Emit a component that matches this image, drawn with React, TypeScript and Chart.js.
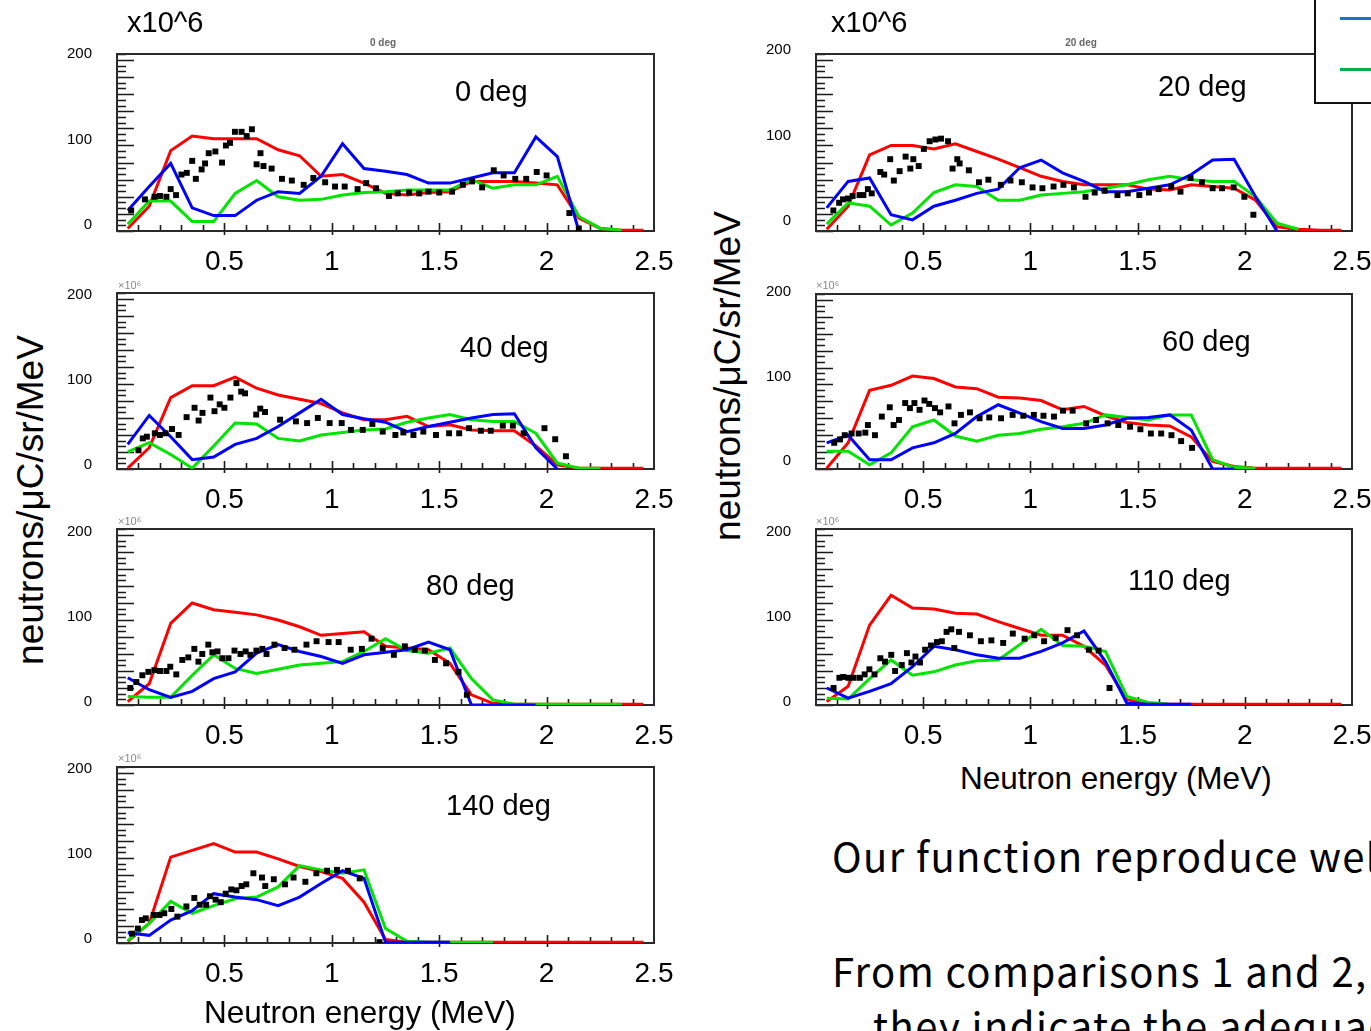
import React, { useEffect, useRef } from "react";
import { Chart, registerables } from "chart.js";

Chart.register(...registerables);

// ---------------- data ----------------
const ENERGY_BINS = [0.05, 0.15, 0.25, 0.35, 0.45, 0.55, 0.65, 0.75, 0.85, 0.95, 1.05, 1.15, 1.25, 1.35, 1.45, 1.55, 1.65, 1.75, 1.85, 1.95, 2.05, 2.15, 2.25, 2.35, 2.45];
const X_TICKS = [0.5, 1, 1.5, 2, 2.5];
const Y_TICKS = [0, 100, 200];

// 0 deg
const RED_0 = [3, 29, 94, 111, 108, 108, 108, 95, 88, 64, 66, 56, 44, 42, 45, 46, 58, 58, 58, 56, 54, 15, 3, 1, 1];
const BLUE_0 = [24, 52, 79, 27, 18, 18, 36, 46, 44, 64, 102, 73, 70, 66, 56, 56, 62, 68, 68, 110, 87, 0, null, null, null];
const GREEN_0 = [8, 35, 35, 11, 11, 44, 59, 40, 36, 37, 42, 45, 46, 48, 48, 48, 60, 50, 54, 54, 64, 17, 3, 1, null];
const EXP_E_0 = [0.066, 0.13, 0.175, 0.2, 0.23, 0.25, 0.275, 0.3, 0.325, 0.35, 0.367, 0.394, 0.41, 0.427, 0.458, 0.489, 0.507, 0.526, 0.549, 0.58, 0.604, 0.628, 0.65, 0.668, 0.682, 0.72, 0.768, 0.814, 0.869, 0.914, 0.969, 1.015, 1.06, 1.12, 1.16, 1.206, 1.266, 1.307, 1.36, 1.407, 1.45, 1.5, 1.56, 1.61, 1.653, 1.7, 1.754, 1.8, 1.854, 1.905, 1.954, 2.0, 2.106, 2.15];
const EXP_V_0 = [24, 37, 40, 41, 40, 49, 42, 66, 68, 82, 61, 72, 79, 91, 93, 80, 100, 103, 116, 116, 111, 119, 78, 91, 76, 73, 61, 59, 54, 62, 57, 52, 52, 49, 56, 50, 41, 44, 45, 44, 46, 45, 46, 54, 58, 51, 71, 65, 61, 61, 69, 65, 21, 3];

// 20 deg
const RED_20 = [2, 29, 89, 100, 100, 96, 102, 93, 84, 74, 64, 58, 54, 54, 54, 49, 48, 54, 52, 50, 36, 5, 2, 1, 1];
const BLUE_20 = [27, 58, 62, 19, 13, 29, 36, 44, 49, 74, 83, 68, 58, 46, 46, 50, 54, 66, 83, 84, 40, 0, null, null, null];
const GREEN_20 = [8, 33, 29, 7, 21, 45, 54, 52, 36, 36, 42, 44, 46, 50, 54, 60, 64, 60, 58, 58, 40, 9, 2, null, null];
const EXP_E_20 = [0.081, 0.108, 0.126, 0.149, 0.171, 0.203, 0.221, 0.242, 0.26, 0.3, 0.318, 0.346, 0.363, 0.39, 0.418, 0.44, 0.454, 0.479, 0.503, 0.53, 0.557, 0.583, 0.616, 0.637, 0.659, 0.67, 0.713, 0.76, 0.804, 0.862, 0.907, 0.96, 1.01, 1.056, 1.108, 1.154, 1.203, 1.257, 1.3, 1.346, 1.406, 1.454, 1.508, 1.553, 1.598, 1.657, 1.7, 1.747, 1.8, 1.85, 1.894, 1.948, 1.998, 2.04];
const EXP_V_20 = [24, 33, 37, 38, 41, 42, 42, 49, 44, 69, 66, 84, 59, 70, 87, 73, 84, 76, 96, 105, 107, 108, 105, 73, 84, 79, 71, 57, 60, 54, 59, 57, 51, 50, 52, 54, 51, 40, 45, 47, 42, 44, 42, 45, 49, 52, 46, 62, 57, 50, 50, 51, 40, 19];

// 40 deg
const RED_40 = [1, 25, 84, 98, 98, 108, 95, 87, 82, 77, 66, 58, 58, 62, 50, 52, 46, 45, 45, 27, 5, 1, 1, 1, 1];
const BLUE_40 = [29, 63, 38, 11, 14, 29, 36, 50, 66, 82, 64, 59, 55, 44, 50, 55, 60, 64, 65, 25, 0, null, null, null, null];
const GREEN_40 = [20, 31, 17, 1, 27, 54, 53, 36, 33, 40, 43, 46, 47, 55, 60, 64, 58, 56, 56, 42, 7, 1, 1, null, null];
const EXP_E_40 = [0.1, 0.12, 0.139, 0.176, 0.2, 0.226, 0.256, 0.287, 0.324, 0.361, 0.38, 0.398, 0.435, 0.454, 0.478, 0.5, 0.528, 0.556, 0.578, 0.596, 0.648, 0.667, 0.689, 0.759, 0.833, 0.885, 0.935, 0.99, 1.046, 1.089, 1.144, 1.189, 1.237, 1.296, 1.333, 1.38, 1.426, 1.485, 1.546, 1.593, 1.639, 1.694, 1.74, 1.796, 1.843, 1.893, 1.99, 2.04, 2.09];
const EXP_V_40 = [22, 36, 38, 42, 40, 42, 47, 40, 61, 72, 57, 66, 84, 68, 76, 72, 84, 101, 91, 89, 64, 71, 67, 58, 56, 54, 60, 54, 54, 46, 46, 53, 44, 40, 43, 40, 44, 40, 42, 42, 48, 45, 45, 51, 51, 42, 48, 35, 15];

// 60 deg
const RED_60 = [1, 31, 93, 99, 110, 107, 97, 95, 85, 84, 81, 70, 74, 63, 55, 52, 51, 38, 9, 3, 1, 1, 1, 1, 1];
const BLUE_60 = [31, 40, 11, 11, 25, 31, 42, 62, 76, 66, 56, 48, 48, 52, 60, 61, 64, 46, 0, 0, null, null, null, null, null];
const GREEN_60 = [21, 21, 5, 19, 50, 58, 39, 33, 40, 42, 47, 50, 54, 64, 61, 58, 64, 64, 11, 2, 1, null, null, null, null];
const EXP_E_60 = [0.085, 0.112, 0.134, 0.166, 0.199, 0.23, 0.242, 0.275, 0.307, 0.344, 0.362, 0.387, 0.416, 0.438, 0.459, 0.483, 0.506, 0.528, 0.555, 0.579, 0.618, 0.646, 0.676, 0.718, 0.763, 0.808, 0.863, 0.917, 0.967, 1.016, 1.061, 1.11, 1.152, 1.197, 1.26, 1.306, 1.36, 1.41, 1.465, 1.513, 1.562, 1.61, 1.658, 1.703, 1.754];
const EXP_V_60 = [31, 35, 40, 42, 42, 43, 52, 40, 62, 73, 52, 58, 78, 72, 78, 70, 81, 77, 72, 67, 74, 54, 64, 67, 60, 61, 60, 64, 63, 64, 63, 62, 69, 69, 54, 58, 54, 52, 50, 47, 42, 42, 40, 33, 25];

// 80 deg
const RED_80 = [4, 25, 96, 120, 112, 109, 106, 100, 92, 82, 84, 86, 69, 67, 65, 49, 12, 2, 1, 1, 1, 1, 1, 1, 1];
const BLUE_80 = [32, 18, 9, 16, 31, 39, 61, 71, 63, 57, 49, 59, 62, 65, 74, 65, 0, 0, 0, 0, null, null, null, null, null];
const GREEN_80 = [10, 9, 9, 35, 59, 43, 37, 42, 47, 49, 51, 63, 78, 64, 61, 67, 31, 6, 1, 1, 1, 1, 1, 1, null];
const EXP_E_80 = [0.062, 0.09, 0.118, 0.146, 0.174, 0.2, 0.23, 0.248, 0.276, 0.304, 0.332, 0.36, 0.379, 0.397, 0.425, 0.444, 0.468, 0.49, 0.519, 0.547, 0.575, 0.599, 0.621, 0.649, 0.677, 0.696, 0.733, 0.78, 0.826, 0.882, 0.929, 0.985, 1.032, 1.088, 1.14, 1.185, 1.237, 1.289, 1.34, 1.386, 1.433, 1.48, 1.532, 1.59, 1.629];
const EXP_V_80 = [20, 27, 35, 39, 41, 40, 40, 45, 36, 53, 56, 66, 51, 60, 71, 62, 63, 55, 55, 64, 60, 63, 59, 64, 66, 60, 71, 67, 65, 71, 75, 74, 74, 65, 66, 78, 67, 59, 69, 65, 64, 53, 49, 39, 12];

// 110 deg
const RED_110 = [4, 22, 94, 129, 114, 113, 108, 107, 98, 90, 82, 82, 69, 47, 6, 2, 1, 1, 1, 1, 1, 1, 1, 1, 1];
const BLUE_110 = [20, 8, 16, 25, 45, 69, 65, 59, 55, 55, 63, 73, 87, 51, 2, 1, 1, 1, null, null, null, null, null, null, null];
const GREEN_110 = [8, 7, 31, 53, 35, 39, 47, 52, 53, 71, 89, 70, 69, 63, 10, 3, 1, null, null, null, null, null, null, null, null];
const EXP_E_110 = [0.082, 0.109, 0.127, 0.151, 0.176, 0.205, 0.227, 0.249, 0.273, 0.3, 0.322, 0.351, 0.369, 0.4, 0.424, 0.445, 0.464, 0.485, 0.509, 0.536, 0.564, 0.587, 0.609, 0.631, 0.645, 0.667, 0.718, 0.769, 0.818, 0.873, 0.918, 0.973, 1.018, 1.064, 1.118, 1.173, 1.218, 1.273, 1.318, 1.369];
const EXP_V_110 = [20, 32, 33, 32, 32, 32, 36, 42, 36, 55, 51, 59, 40, 47, 61, 50, 57, 50, 65, 70, 74, 75, 86, 89, 67, 86, 82, 75, 76, 73, 84, 78, 82, 75, 79, 88, 82, 65, 64, 20];

// 140 deg
const RED_140 = [2, 23, 101, 109, 117, 107, 107, 99, 90, 84, 76, 48, 4, 1, 1, 1, 1, 1, 1, 1, 1, 1, 1, 1, 1];
const BLUE_140 = [12, 9, 27, 38, 58, 54, 51, 44, 54, 70, 85, 76, 1, 1, 1, 1, null, null, null, null, null, null, null, null, null];
const GREEN_140 = [3, 23, 49, 35, 44, 52, 54, 66, 91, 86, 82, 86, 17, 2, 1, 1, 1, 1, null, null, null, null, null, null, null];
const EXP_E_140 = [0.07, 0.097, 0.116, 0.134, 0.171, 0.198, 0.22, 0.253, 0.281, 0.323, 0.36, 0.385, 0.415, 0.433, 0.459, 0.483, 0.506, 0.532, 0.556, 0.58, 0.602, 0.635, 0.675, 0.69, 0.73, 0.782, 0.822, 0.877, 0.928, 0.978, 1.024, 1.075, 1.13, 1.222];
const EXP_V_140 = [11, 17, 27, 29, 33, 33, 35, 40, 31, 43, 53, 45, 45, 55, 51, 48, 58, 63, 62, 67, 69, 82, 77, 67, 75, 69, 77, 72, 82, 85, 86, 85, 76, 1];

// ---------------- styles / layout ----------------
const FONT = "'Liberation Sans', Arial, Helvetica, sans-serif";
const JP_FONT = "'Noto Sans CJK JP', 'Noto Sans', sans-serif";
const RED = "#ff0000";
const BLUE = "#0000ff";
const GREEN = "#00e400";
const Y_MAX = 207;
const PAD_L = 62;
const PAD_T = 38;
const PAD_R = 38;
const PAD_B = 52;

type Frame = { l: number; t: number; r: number; b: number };
type PanelSpec = {
  id: string;
  red: (number | null)[];
  blue: (number | null)[];
  green: (number | null)[];
  expE: number[];
  expV: number[];
  frame: Frame;
  labelOffset: number;
};

const PANELS: PanelSpec[] = [
  { id: "0", red: RED_0, blue: BLUE_0, green: GREEN_0, expE: EXP_E_0, expV: EXP_V_0, frame: { l: 117, t: 54, r: 654, b: 231 }, labelOffset: -6 },
  { id: "20", red: RED_20, blue: BLUE_20, green: GREEN_20, expE: EXP_E_20, expV: EXP_V_20, frame: { l: 816, t: 54, r: 1352, b: 231 }, labelOffset: -10 },
  { id: "40", red: RED_40, blue: BLUE_40, green: GREEN_40, expE: EXP_E_40, expV: EXP_V_40, frame: { l: 117, t: 293, r: 654, b: 469 }, labelOffset: -4 },
  { id: "60", red: RED_60, blue: BLUE_60, green: GREEN_60, expE: EXP_E_60, expV: EXP_V_60, frame: { l: 816, t: 294, r: 1352, b: 469 }, labelOffset: -8 },
  { id: "80", red: RED_80, blue: BLUE_80, green: GREEN_80, expE: EXP_E_80, expV: EXP_V_80, frame: { l: 117, t: 529, r: 654, b: 705 }, labelOffset: -3 },
  { id: "110", red: RED_110, blue: BLUE_110, green: GREEN_110, expE: EXP_E_110, expV: EXP_V_110, frame: { l: 816, t: 529, r: 1352, b: 705 }, labelOffset: -3 },
  { id: "140", red: RED_140, blue: BLUE_140, green: GREEN_140, expE: EXP_E_140, expV: EXP_V_140, frame: { l: 117, t: 767, r: 654, b: 943 }, labelOffset: -4 },
];

const rootAxesPlugin = {
  id: "rootAxes",
  beforeDatasetsDraw(chart: any) {
    const { ctx, chartArea, scales } = chart;
    const { left, top, right, bottom } = chartArea;
    const x = scales.x;
    const y = scales.y;
    ctx.save();
    ctx.strokeStyle = "#1a1a1a";
    ctx.lineWidth = 1.6;
    ctx.beginPath();
    const major = 20;
    const nSub = 3;
    for (let k = 0; (k * major) / nSub <= Y_MAX; k++) {
      const py = Math.round(y.getPixelForValue((k * major) / nSub)) + 0.5;
      const len = k % nSub === 0 ? 17 : 9;
      ctx.moveTo(left, py);
      ctx.lineTo(left + len, py);
    }
    for (let k = 1; k < 25; k++) {
      const px = Math.round(x.getPixelForValue(k / 10)) + 0.5;
      const isMajor = k % 5 === 0;
      ctx.moveTo(px, bottom + (isMajor ? 4 : 0));
      ctx.lineTo(px, bottom - (isMajor ? 8 : 6));
    }
    ctx.stroke();
    ctx.lineWidth = 2;
    ctx.strokeStyle = "#2a2a2a";
    ctx.strokeRect(left, top, right - left, bottom - top);
    ctx.restore();
  },
};

function lineSet(label: string, values: (number | null)[], color: string, order: number) {
  return {
    label,
    data: ENERGY_BINS.map((e, i) => ({ x: e, y: values[i] })),
    showLine: true,
    borderColor: color,
    backgroundColor: color,
    borderWidth: 3,
    pointRadius: 0,
    pointHoverRadius: 0,
    spanGaps: false,
    order,
  };
}

function Panel({ spec }: { spec: PanelSpec }) {
  const ref = useRef<HTMLCanvasElement>(null);
  const f = spec.frame;
  const width = f.r - f.l + PAD_L + PAD_R;
  const height = f.b - f.t + PAD_T + PAD_B;
  useEffect(() => {
    if (!ref.current) return;
    const chart = new Chart(ref.current, {
      type: "scatter",
      data: {
        datasets: [
          {
            label: "Data",
            data: spec.expE.map((e, i) => ({ x: e, y: spec.expV[i] })),
            showLine: false,
            pointStyle: "rect",
            pointRadius: 4.2,
            pointHoverRadius: 4.2,
            backgroundColor: "#000",
            borderColor: "#000",
            borderWidth: 0,
            order: 0,
          } as any,
          lineSet("Blue", spec.blue, BLUE, 1) as any,
          lineSet("Green", spec.green, GREEN, 2) as any,
          lineSet("Red", spec.red, RED, 3) as any,
        ],
      },
      options: {
        responsive: false,
        animation: false,
        devicePixelRatio: 1,
        events: [],
        layout: { padding: { left: 0, top: PAD_T, right: PAD_R, bottom: 0 } },
        plugins: { legend: { display: false }, tooltip: { enabled: false }, title: { display: false } },
        scales: {
          x: {
            type: "linear",
            min: 0,
            max: 2.5,
            afterBuildTicks: (s: any) => {
              s.ticks = X_TICKS.map((v) => ({ value: v }));
            },
            afterFit: (s: any) => {
              s.height = PAD_B;
            },
            grid: { display: false, drawTicks: false },
            border: { display: false },
            ticks: {
              color: "#000",
              font: { family: FONT, size: 28 },
              padding: 14,
              maxRotation: 0,
              autoSkip: false,
              callback: (v: any) => String(v),
            },
          },
          y: {
            type: "linear",
            min: 0,
            max: Y_MAX,
            afterBuildTicks: (s: any) => {
              s.ticks = Y_TICKS.map((v) => ({ value: v }));
            },
            afterFit: (s: any) => {
              s.width = PAD_L;
            },
            grid: { display: false, drawTicks: false },
            border: { display: false },
            ticks: {
              color: "#000",
              font: { family: FONT, size: 15 },
              padding: 25,
              labelOffset: spec.labelOffset,
              autoSkip: false,
              callback: (v: any) => String(v),
            },
          },
        },
      } as any,
      plugins: [rootAxesPlugin],
    });
    return () => chart.destroy();
  }, []);
  return (
    <canvas
      ref={ref}
      width={width}
      height={height}
      style={{ position: "absolute", left: f.l - PAD_L, top: f.t - PAD_T, width, height }}
    />
  );
}

type Label = { text: string; x: number; y: number; size: number; family?: string; color?: string; weight?: string; center?: boolean; spacing?: number };

const LABELS: Label[] = [
  { text: "x10^6", x: 127, y: 22, size: 29 },
  { text: "x10^6", x: 831, y: 22, size: 29 },
  { text: "0 deg", x: 383, y: 43, size: 10, color: "#666", weight: "bold", center: true },
  { text: "20 deg", x: 1081, y: 43, size: 10, color: "#666", weight: "bold", center: true },
  { text: "×10⁶", x: 118, y: 285, size: 11, color: "#888" },
  { text: "×10⁶", x: 118, y: 521, size: 11, color: "#888" },
  { text: "×10⁶", x: 118, y: 758, size: 11, color: "#888" },
  { text: "×10⁶", x: 816, y: 285, size: 11, color: "#888" },
  { text: "×10⁶", x: 816, y: 521, size: 11, color: "#888" },
  { text: "0 deg", x: 455, y: 91, size: 29 },
  { text: "20 deg", x: 1158, y: 86, size: 29 },
  { text: "40 deg", x: 460, y: 347, size: 29 },
  { text: "60 deg", x: 1162, y: 341, size: 29 },
  { text: "80 deg", x: 426, y: 585, size: 29 },
  { text: "110 deg", x: 1128, y: 580, size: 29 },
  { text: "140 deg", x: 446, y: 805, size: 29 },
  { text: "Neutron energy (MeV)", x: 204, y: 1013, size: 31.5 },
  { text: "Neutron energy (MeV)", x: 960, y: 779, size: 31.5 },
  { text: "Our function reproduce well", x: 832, y: 855, size: 40, family: JP_FONT, spacing: 1.4 },
  { text: "From comparisons 1 and 2,", x: 832, y: 970, size: 40, family: JP_FONT, spacing: 1.4 },
  { text: "they indicate the adequacy", x: 873, y: 1025, size: 40, family: JP_FONT, spacing: 1.4 },
];

function Txt({ l }: { l: Label }) {
  return (
    <div
      style={{
        position: "absolute",
        left: l.x,
        top: l.y - l.size / 2,
        fontSize: l.size,
        lineHeight: `${l.size}px`,
        height: l.size,
        fontFamily: l.family || FONT,
        color: l.color || "#000",
        fontWeight: (l.weight as any) || "normal",
        letterSpacing: l.spacing ? `${l.spacing}px` : undefined,
        whiteSpace: "nowrap",
        transform: l.center ? "translateX(-50%)" : undefined,
      }}
    >
      {l.text}
    </div>
  );
}

function YTitle({ cx, cy }: { cx: number; cy: number }) {
  return (
    <div
      style={{
        position: "absolute",
        left: cx,
        top: cy,
        fontFamily: FONT,
        fontSize: 37,
        lineHeight: "37px",
        whiteSpace: "nowrap",
        color: "#000",
        transform: "translate(-50%, -50%) rotate(-90deg)",
      }}
    >
      neutrons/μC/sr/MeV
    </div>
  );
}

export default function App() {
  return (
    <div
      style={{
        position: "absolute",
        left: 0,
        top: 0,
        width: 1371,
        height: 1031,
        overflow: "hidden",
        background: "#fff",
      }}
    >
      {PANELS.map((p) => (
        <Panel key={p.id} spec={p} />
      ))}
      {LABELS.map((l, i) => (
        <Txt key={i} l={l} />
      ))}
      <YTitle cx={30} cy={500} />
      <YTitle cx={727} cy={376} />
      <div
        style={{
          position: "absolute",
          left: 1314,
          top: -3,
          width: 80,
          height: 107,
          border: "2px solid #111",
          background: "#fff",
          boxSizing: "border-box",
        }}
      />
      <div style={{ position: "absolute", left: 1340, top: 17, width: 40, height: 3, background: "#1f70c8" }} />
      <div style={{ position: "absolute", left: 1340, top: 68, width: 40, height: 3, background: "#00b050" }} />
    </div>
  );
}
